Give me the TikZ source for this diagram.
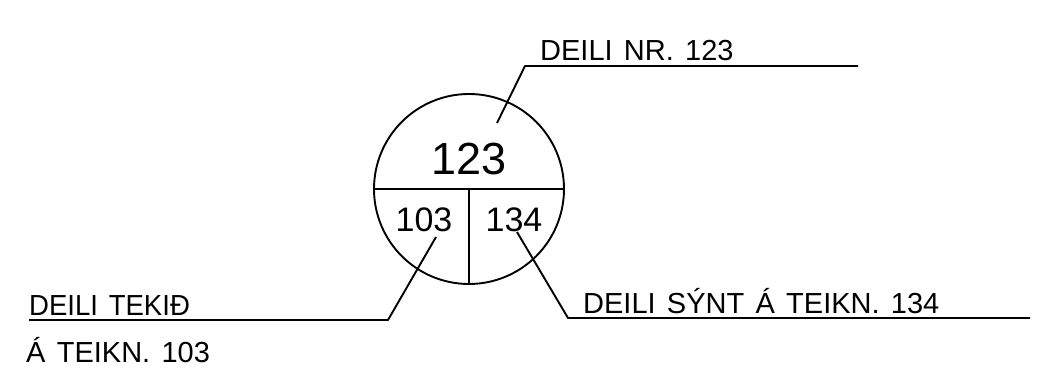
\documentclass[tikz,border=0pt]{standalone}
\usepackage{fontspec}
\setmainfont{Liberation Sans}
\newfontfamily\lblfont[WordSpace=1.4]{Liberation Sans}
\begin{document}
\begin{tikzpicture}[x=1pt,y=-1pt,
  line/.style={line width=1.9pt,black,line join=round},
  lbl/.style={inner sep=0pt,anchor=base west,font=\lblfont\fontsize{29}{36}\selectfont},
  num/.style={inner sep=0pt,anchor=base}]
\useasboundingbox (0,0) rectangle (1044,387);
% circle with dividers
\node[circle,draw,line,minimum size=190pt,inner sep=0pt] (c) at (469,189) {};
\draw[line] (c.west) -- (c.east);
\coordinate (mid) at (469,190);
\draw[line] (mid) -- (c.south);
% numbers
\node[num,font=\fontsize{45}{50}\selectfont] (n123) at (469,175) {123};
\node[num,font=\fontsize{34}{40}\selectfont] (n103) at (424,232) {103};
\node[num,font=\fontsize{34}{40}\selectfont] (n134) at (514,232) {134};
% labels
\node[lbl] (l1) at (540,61) {DEILI NR. 123};
\node[lbl,xscale=0.95] (l2) at (29,316) {DEILI TEKIÐ};
\node[lbl] (l3) at (26,362) {Á TEIKN. 103};
\node[lbl] (l4) at (583,314) {DEILI SÝNT Á TEIKN. 134};
% leaders
\coordinate (a1) at (497,123);
\coordinate (k1) at (525,66);
\coordinate (e1) at (858,66);
\draw[line] (a1) -- (k1) -- (e1);
\coordinate (a2) at (436,237);
\coordinate (k2) at (388,320);
\coordinate (e2) at (29,320);
\draw[line] (a2) -- (k2) -- (e2);
\coordinate (a3) at (517,232);
\coordinate (k3) at (568,318);
\coordinate (e3) at (1030,318);
\draw[line] (a3) -- (k3) -- (e3);
\end{tikzpicture}
\end{document}
